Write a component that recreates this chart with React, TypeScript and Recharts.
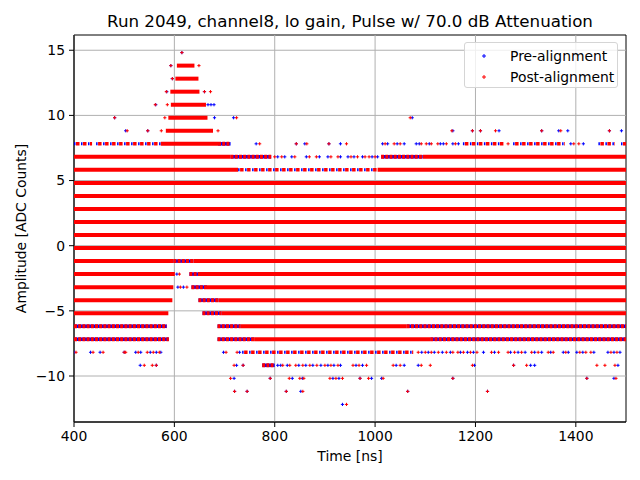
import React from "react";
import {
  ScatterChart,
  Scatter,
  XAxis,
  YAxis,
  ReferenceLine,
  ReferenceArea,
  Legend,
} from "recharts";

const FONT = "DejaVu Sans, sans-serif";

const xTicks = [400, 600, 800, 1000, 1200, 1400];
const yTicks = [-10, -5, 0, 5, 10, 15];
const xDomain: [number, number] = [400, 1500];
const yDomain: [number, number] = [-13.53, 16.17];

// [level, from ns, to ns] where the post-alignment crosses merge into a solid band
const solidRuns: [number, number, number][] = [
  [13.82, 605, 640],
  [12.82, 602, 648],
  [11.82, 592, 650],
  [10.82, 593, 663],
  [9.82, 588, 666],
  [8.82, 583, 677],
  [7.82, 573, 687],
  [6.82, 400, 712],
  [6.82, 1095, 1500],
  [5.82, 400, 727],
  [5.82, 1005, 1500],
  [4.82, 400, 1500],
  [3.82, 400, 1500],
  [2.82, 400, 1500],
  [1.82, 400, 1500],
  [0.82, 400, 1500],
  [-0.18, 400, 1500],
  [-1.18, 400, 598],
  [-1.18, 638, 1500],
  [-2.18, 400, 601],
  [-2.18, 651, 1500],
  [-3.18, 400, 598],
  [-3.18, 665, 1500],
  [-4.18, 400, 596],
  [-4.18, 688, 1500],
  [-5.18, 400, 588],
  [-5.18, 694, 1500],
  [-6.18, 732, 1063],
  [-7.18, 759, 1110],
];

// dense stretches where blue and red crosses interleave
const denseRuns: [number, number, number][] = [
  [7.82, 687, 712],
  [6.82, 712, 793],
  [6.82, 1012, 1095],
  [-1.18, 598, 638],
  [-2.18, 630, 651],
  [-3.18, 634, 665],
  [-4.18, 648, 688],
  [-5.18, 656, 694],
  [-6.18, 400, 585],
  [-6.18, 686, 732],
  [-6.18, 1063, 1500],
  [-7.18, 400, 589],
  [-7.18, 686, 759],
  [-7.18, 1110, 1500],
  [-9.18, 775, 800],
];

// looser stretches, crosses with small white gaps between them
const looseRuns: [number, number, number][] = [
  [7.82, 400, 436],
  [7.82, 444, 573],
  [7.82, 1175, 1258],
  [7.82, 1275, 1378],
  [7.82, 1445, 1478],
  [7.82, 1490, 1500],
  [5.82, 727, 1005],
  [-8.18, 735, 1076],
];

// isolated samples: [level, times in ns]
const preHits: [number, number[]][] = [
  [14.82, [615]],
  [13.82, [593]],
  [12.82, [596]],
  [11.82, [585, 660]],
  [10.82, [563, 667, 673, 679]],
  [9.82, [481, 680, 718, 1074]],
  [8.82, [503, 547, 1155, 1194, 1210, 1247, 1332, 1366, 1384, 1467, 1491]],
  [7.82, [763, 843, 860, 908, 931, 1015, 1025, 1044, 1058, 1082, 1088, 1108, 1130, 1136, 1155, 1166, 1390, 1415]],
  [6.82, [806, 820, 834, 863, 889, 906, 931, 946, 958, 975, 994, 1005]],
  [-2.18, [605]],
  [-3.18, [607, 618]],
  [-8.18, [400, 433, 452, 500, 523, 533, 552, 564, 573, 698, 730, 1093, 1106, 1118, 1134, 1150, 1170, 1184, 1196, 1216, 1238, 1270, 1285, 1299, 1318, 1332, 1350, 1375, 1385, 1402, 1414, 1436, 1464, 1476, 1488]],
  [-9.18, [532, 564, 724, 737, 806, 812, 825, 848, 862, 876, 892, 906, 918, 931, 962, 975, 1042, 1058, 1086, 1198, 1276, 1310, 1318, 1484]],
  [-10.18, [719, 791, 835, 855, 916, 928, 970, 993, 1013, 1155, 1422, 1476]],
  [-11.18, [720, 745, 823, 852, 1065, 1224]],
  [-12.18, [935]],
];

const postHits: [number, number[]][] = [
  [14.82, [615]],
  [13.82, [593, 649]],
  [12.82, [596]],
  [11.82, [584, 660, 672]],
  [10.82, [562, 586]],
  [9.82, [481, 581, 724, 1070]],
  [8.82, [506, 547, 574, 687, 1153, 1194, 1210, 1240, 1332, 1370, 1467]],
  [7.82, [770, 843, 864, 908, 943, 1020, 1038, 1050, 1092, 1102, 1112, 1125, 1142, 1160, 1265, 1396, 1406]],
  [6.82, [800, 814, 840, 869, 883, 912, 926, 952, 965, 980, 988, 1000]],
  [-2.18, [610]],
  [-3.18, [612, 625]],
  [-8.18, [404, 438, 458, 500, 503, 528, 546, 558, 570, 703, 725, 1086, 1100, 1112, 1126, 1142, 1155, 1165, 1176, 1190, 1203, 1232, 1246, 1265, 1278, 1292, 1312, 1325, 1345, 1355, 1380, 1408, 1420, 1430, 1470, 1482]],
  [-9.18, [540, 556, 564, 719, 737, 816, 830, 842, 856, 870, 884, 900, 912, 926, 956, 968, 983, 1036, 1050, 1092, 1110, 1194, 1276, 1302, 1442, 1458, 1478]],
  [-10.18, [712, 791, 829, 850, 858, 910, 922, 935, 970, 987, 1016, 1155, 1422, 1480]],
  [-11.18, [720, 745, 823, 856, 1065, 1224]],
  [-12.18, [943]],
];

const BLUE = "#0000ff";
const RED = "#ff0000";

const toPoints = (hits: [number, number[]][]) =>
  hits.flatMap(([lv, xs]) => xs.map((x) => ({ x, y: lv })));

const prePoints = toPoints(preHits);
const postPoints = toPoints(postHits);

function Plus(props: any) {
  const { cx, cy, fill } = props;
  if (cx == null || cy == null) return null;
  const s = 1.6;
  return (
    <path
      d={`M${cx - s},${cy}H${cx + s}M${cx},${cy - s}V${cy + s}`}
      stroke={fill}
      strokeWidth={1}
      fill="none"
    />
  );
}

const noDot = () => null;

function seg(lv: number, a: number, b: number) {
  return [
    { x: a, y: lv },
    { x: b, y: lv },
  ];
}

function LegendBox() {
  const row = (color: string, label: string) => (
    <div style={{ display: "flex", alignItems: "center", height: 21 }}>
      <svg width={40} height={10}>
        <path d="M17,5H21M19,3V7" stroke={color} strokeWidth={1} />
      </svg>
      <span style={{ marginLeft: 5 }}>{label}</span>
    </div>
  );
  return (
    <div
      style={{
        width: 154,
        height: 46,
        boxSizing: "border-box",
        border: "1px solid #d5d5d5",
        borderRadius: 3,
        background: "rgba(255,255,255,0.8)",
        fontFamily: FONT,
        fontSize: 13.9,
        color: "#000",
        paddingTop: 2,
        lineHeight: "16px",
        textAlign: "left",
      }}
    >
      {row(BLUE, "Pre-alignment")}
      {row(RED, "Post-alignment")}
    </div>
  );
}

const fmtY = (v: number) => (v < 0 ? `\u2212${Math.abs(v)}` : `${v}`);

export default function App() {
  return (
    <div style={{ position: "absolute", left: 0, top: 0, width: 640, height: 480, background: "#fff" }}>
      <svg
        width={640}
        height={40}
        style={{ position: "absolute", left: 0, top: 0, pointerEvents: "none" }}
      >
        <text x={350} y={27} textAnchor="middle" fontFamily={FONT} fontSize={16.7} fill="#000">
          Run 2049, channel8, lo gain, Pulse w/ 70.0 dB Attenuation
        </text>
      </svg>
      <ScatterChart width={640} height={480} margin={{ top: 35, right: 14, bottom: 0, left: 0 }}>
        <XAxis
          type="number"
          dataKey="x"
          domain={xDomain}
          ticks={xTicks}
          allowDataOverflow
          height={58}
          tickSize={5}
          tickMargin={4}
          stroke="#000"
          tick={{ fill: "#000", fontSize: 13.9, fontFamily: FONT }}
          label={{
            content: () => (
              <text x={350} y={461} textAnchor="middle" fontFamily={FONT} fontSize={13.9} fill="#000">
                Time [ns]
              </text>
            ),
          }}
        />
        <YAxis
          type="number"
          dataKey="y"
          domain={yDomain}
          ticks={yTicks}
          allowDataOverflow
          width={74}
          tickSize={5}
          tickMargin={4}
          stroke="#000"
          tickFormatter={fmtY}
          tick={{ fill: "#000", fontSize: 13.9, fontFamily: FONT }}
          label={{
            content: () => (
              <text
                x={21}
                y={228.5}
                transform="rotate(-90 21 228.5)"
                textAnchor="middle"
                dominantBaseline="central"
                fontFamily={FONT}
                fontSize={13.9}
                fill="#000"
              >
                Amplitude [ADC Counts]
              </text>
            ),
          }}
        />

        {denseRuns.map(([lv, a, b], i) => (
          <Scatter
            key={`db${i}`}
            data={seg(lv, a, b)}
            shape={noDot}
            line={{ stroke: BLUE, strokeWidth: 3.5 }}
            legendType="none"
            isAnimationActive={false}
          />
        ))}
        {looseRuns.map(([lv, a, b], i) => (
          <Scatter
            key={`lb${i}`}
            data={seg(lv, a, b)}
            shape={noDot}
            line={{ stroke: BLUE, strokeWidth: 3, strokeDasharray: "1.5 5.5" }}
            legendType="none"
            isAnimationActive={false}
          />
        ))}
        <Scatter name="Pre-alignment" data={prePoints} fill={BLUE} shape={<Plus />} isAnimationActive={false} />

        {solidRuns.map(([lv, a, b], i) => (
          <Scatter
            key={`s${i}`}
            data={seg(lv, a, b)}
            shape={noDot}
            line={{ stroke: RED, strokeWidth: 4 }}
            legendType="none"
            isAnimationActive={false}
          />
        ))}
        {denseRuns.map(([lv, a, b], i) => (
          <Scatter
            key={`dr${i}`}
            data={seg(lv, a, b)}
            shape={noDot}
            line={{ stroke: RED, strokeWidth: 4, strokeDasharray: "3 1.2" }}
            legendType="none"
            isAnimationActive={false}
          />
        ))}
        {looseRuns.map(([lv, a, b], i) => (
          <Scatter
            key={`lr${i}`}
            data={seg(lv, a, b)}
            shape={noDot}
            line={{ stroke: RED, strokeWidth: 3.5, strokeDasharray: "3.5 3.5", strokeDashoffset: 5 }}
            legendType="none"
            isAnimationActive={false}
          />
        ))}
        <Scatter name="Post-alignment" data={postPoints} fill={RED} shape={<Plus />} isAnimationActive={false} />

        {xTicks.map((t) => (
          <ReferenceLine key={`gx${t}`} x={t} stroke="#b0b0b0" strokeWidth={1} />
        ))}
        {yTicks.map((t) => (
          <ReferenceLine key={`gy${t}`} y={t} stroke="#b0b0b0" strokeWidth={1} />
        ))}
        <ReferenceArea
          x1={xDomain[0]}
          x2={xDomain[1]}
          y1={yDomain[0]}
          y2={yDomain[1]}
          fill="none"
          fillOpacity={0}
          stroke="#000"
          strokeWidth={1}
        />
        <Legend
          layout="horizontal"
          verticalAlign="middle"
          align="center"
          wrapperStyle={{ position: "absolute", left: 464, top: 42, width: 154, height: 46 }}
          content={() => <LegendBox />}
        />
      </ScatterChart>
    </div>
  );
}
